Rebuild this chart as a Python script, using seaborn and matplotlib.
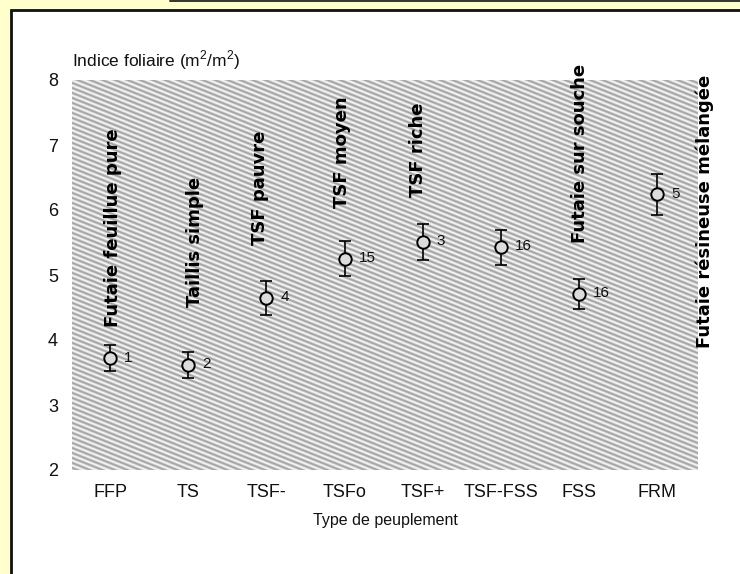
import numpy as np
import pandas as pd
import matplotlib
matplotlib.use("Agg")
import matplotlib.pyplot as plt
import seaborn as sns
from matplotlib.patches import Rectangle
from matplotlib.lines import Line2D

# ---------------- data ----------------
categories = ["FFP", "TS", "TSF-", "TSFo", "TSF+", "TSF-FSS", "FSS", "FRM"]
means = [3.72, 3.62, 4.65, 5.25, 5.51, 5.43, 4.71, 6.24]
errors = [0.20, 0.20, 0.26, 0.27, 0.28, 0.27, 0.23, 0.31]
counts = ["1", "2", "4", "15", "3", "16", "16", "5"]
type_names = ["Futaie feuillue pure", "Taillis simple", "TSF pauvre", "TSF moyen",
              "TSF riche", "Futaie sur souche", "Futaie résineuse mélangée"]
y_ticks = [2, 3, 4, 5, 6, 7, 8]
y_title = "Indice foliaire (m$^2$/m$^2$)"
x_title = "Type de peuplement"

# layout of the rotated names: (x in category units, y bottom in data units)
name_layout = [(0.04, 4.20), (1.09, 4.51), (1.92, 5.46), (2.97, 6.03),
               (3.94, 6.20), (6.01, 5.49), (7.61, 3.88)]

sns.set_theme(style="white")
narrow = ["Liberation Sans Narrow", "Liberation Sans", "DejaVu Sans"]
plt.rcParams["font.family"] = narrow
plt.rcParams["mathtext.fontset"] = "custom"
plt.rcParams["mathtext.rm"] = "Liberation Sans"

W, H = 740, 574
fig = plt.figure(figsize=(W / 100, H / 100), dpi=100, facecolor="#FFFFCC")

# white panel with black border
fig.patches.append(Rectangle((11 / W, -0.05), 1.2, 1 - 10 / H + 0.05,
                             transform=fig.transFigure, facecolor="white",
                             edgecolor="#111111", linewidth=2.0, zorder=-2))
fig.lines.append(Line2D([170 / W, 1], [1 - 0.8 / H, 1 - 0.8 / H],
                        transform=fig.transFigure, color="#333333",
                        linewidth=1.4, zorder=-1))

ax_l, ax_r, ax_t, ax_b = 72, 698, 80, 470
ax = fig.add_axes([ax_l / W, 1 - ax_b / H, (ax_r - ax_l) / W, (ax_b - ax_t) / H])
ax.set_facecolor("none")

xlim = (-0.486, 7.52)
ylim = (2, 8)

# hatched background texture
pw, ph = ax_r - ax_l, ax_b - ax_t
rr, cc = np.mgrid[0:ph, 0:pw]
phase = (rr - 0.40 * cc) / 5.0
tex = 0.80 + 0.16 * np.cos(2 * np.pi * phase)
ax.imshow(tex, cmap="gray", vmin=0, vmax=1, extent=[xlim[0], xlim[1], ylim[0], ylim[1]],
          aspect="auto", interpolation="nearest", origin="upper", zorder=0)

df = pd.DataFrame({"cat": categories, "mean": means, "err": errors, "n": counts})
xpos = np.arange(len(categories))

ax.errorbar(xpos, df["mean"], yerr=df["err"], fmt="none", ecolor="black",
            elinewidth=1.2, capsize=4.5, capthick=1.2, zorder=2)
sns.scatterplot(data=df, x="cat", y="mean", ax=ax, marker="o", s=80,
                facecolor="#dcdcdc", edgecolor="black", linewidth=1.4, zorder=3)

for i, row in df.iterrows():
    ax.annotate(row["n"], (i, row["mean"]), xytext=(10, 0.5), textcoords="offset points",
                ha="left", va="center", fontsize=11, color="#111111")

for name, (nx, ny) in zip(type_names, name_layout):
    ax.text(nx, ny, name, rotation=90, ha="center", va="bottom", fontsize=13,
            fontweight="bold", color="black", family=["DejaVu Sans"], clip_on=False)

ax.set_xlim(*xlim)
ax.set_ylim(*ylim)
ax.set_yticks(y_ticks)
ax.set_yticklabels([str(t) for t in y_ticks])
ax.set_xticks(xpos)
ax.set_xticklabels(categories)
ax.tick_params(axis="both", length=0, labelsize=13, colors="#111111")
ax.tick_params(axis="x", pad=10)
ax.tick_params(axis="y", pad=10)
for s in ax.spines.values():
    s.set_visible(False)
ax.set_xlabel("")
ax.set_ylabel("")
ax.text(0.0, 1 + 20 / ph, y_title, transform=ax.transAxes, ha="left", va="center",
        fontsize=12.5, color="#111111")
fig.text((385) / W, 1 - 521 / H, x_title, ha="center", va="center", fontsize=11.5,
         color="#111111")

fig.savefig("out.png", dpi=100, facecolor=fig.get_facecolor())
